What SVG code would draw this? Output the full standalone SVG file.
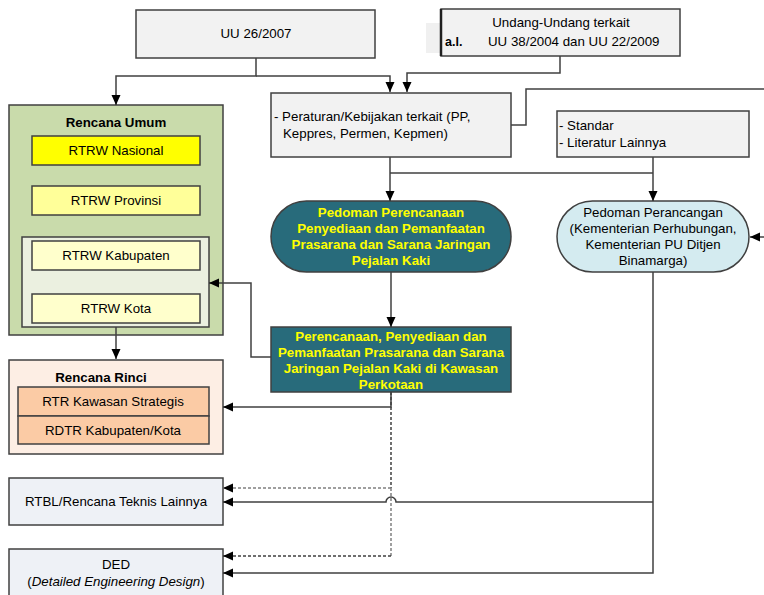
<svg xmlns="http://www.w3.org/2000/svg" width="764" height="595" viewBox="0 0 764 595">
<defs>
<marker id="arr" markerUnits="userSpaceOnUse" markerWidth="10" markerHeight="10" refX="10" refY="5" orient="auto" viewBox="0 0 10 10">
<path d="M0,0.5 L10,5 L0,9.5 z" fill="#000"/>
</marker>
</defs>
<style>
text{font-family:"Liberation Sans",Arial,sans-serif;font-size:13.3px;fill:#000}
.b{font-weight:bold}
.y{fill:#ffff00;font-weight:bold}
.m{text-anchor:middle}
.box{stroke:#404040;stroke-width:1.5}
.c{fill:none;stroke:#404040;stroke-width:1.5}
.d1{fill:none;stroke:#404040;stroke-width:1.5;stroke-dasharray:3,2}
.d2{fill:none;stroke:#808080;stroke-width:1.5;stroke-dasharray:3,2}
</style>
<rect width="764" height="595" fill="#fff"/>

<g id="uu26">
<rect class="box" x="136" y="10" width="239" height="48" fill="#f2f2f2"/>
<text class="m" x="256" y="38">UU 26/2007</text>
</g>

<g id="uu-terkait">
<rect x="426" y="23" width="16" height="30" fill="#f0f0f0"/>
<rect class="box" x="441" y="9" width="239" height="47" fill="#f2f2f2"/>
<line x1="441" y1="9" x2="441" y2="56" stroke="#202020" stroke-width="2.5"/>
<text class="m" x="561" y="27">Undang-Undang terkait</text>
<text class="b" x="445" y="46" style="font-size:12.5px">a.l.</text>
<text x="488" y="46">UU 38/2004 dan UU 22/2009</text>
</g>

<g id="peraturan">
<rect class="box" x="271" y="93" width="240" height="64" fill="#f2f2f2"/>
<text x="274" y="121">- Peraturan/Kebijakan terkait (PP,</text>
<text x="283" y="138">Keppres, Permen, Kepmen)</text>
</g>

<g id="standar">
<rect class="box" x="557" y="111" width="192" height="46" fill="#f2f2f2"/>
<text x="559" y="130">- Standar</text>
<text x="559" y="147">- Literatur Lainnya</text>
</g>

<g id="pedoman-perencanaan">
<rect class="box" x="271" y="201" width="240" height="71" rx="35.5" fill="#286b7b"/>
<text class="y m" x="391" y="217">Pedoman Perencanaan</text>
<text class="y m" x="391" y="233">Penyediaan dan Pemanfaatan</text>
<text class="y m" x="391" y="249">Prasarana dan Sarana Jaringan</text>
<text class="y m" x="391" y="265">Pejalan Kaki</text>
</g>

<g id="pedoman-perancangan">
<rect class="box" x="557" y="201" width="192" height="71" rx="35.5" fill="#d4ebf0"/>
<text class="m" x="653" y="217">Pedoman Perancangan</text>
<text class="m" x="653" y="233">(Kementerian Perhubungan,</text>
<text class="m" x="653" y="249">Kementerian PU Ditjen</text>
<text class="m" x="653" y="265">Binamarga)</text>
</g>

<g id="perencanaan">
<rect class="box" x="271" y="327" width="240" height="65" fill="#286b7b"/>
<text class="y m" x="391" y="341">Perencanaan, Penyediaan dan</text>
<text class="y m" x="391" y="357">Pemanfaatan Prasarana dan Sarana</text>
<text class="y m" x="391" y="373">Jaringan Pejalan Kaki di Kawasan</text>
<text class="y m" x="391" y="389">Perkotaan</text>
</g>

<g id="rencana-umum">
<rect class="box" x="9" y="105" width="214" height="230" fill="#c9dbab"/>
<text class="b m" x="116" y="127">Rencana Umum</text>
<rect class="box" x="32" y="136" width="168" height="29" fill="#ffff00"/>
<text class="m" x="116" y="155">RTRW Nasional</text>
<rect class="box" x="32" y="186" width="168" height="29" fill="#ffff99"/>
<text class="m" x="116" y="205">RTRW Provinsi</text>
<rect class="box" x="22" y="237" width="187" height="90" fill="#ebf0e0"/>
<rect class="box" x="32" y="241" width="168" height="29" fill="#ffffcc"/>
<text class="m" x="116" y="260">RTRW Kabupaten</text>
<rect class="box" x="32" y="294" width="168" height="29" fill="#ffffcc"/>
<text class="m" x="116" y="313">RTRW Kota</text>
</g>

<g id="rencana-rinci">
<rect class="box" x="9" y="360" width="214" height="94" fill="#fdeee4"/>
<text class="b m" x="101" y="382">Rencana Rinci</text>
<rect class="box" x="18" y="387" width="191" height="29" fill="#fbcba5"/>
<text class="m" x="113" y="406">RTR Kawasan Strategis</text>
<rect class="box" x="18" y="416" width="191" height="28" fill="#fbcba5"/>
<text class="m" x="113" y="435">RDTR Kabupaten/Kota</text>
</g>

<g id="rtbl">
<rect class="box" x="9" y="478" width="214" height="47" fill="#eef1f6"/>
<text class="m" x="116" y="506">RTBL/Rencana Teknis Lainnya</text>
</g>

<g id="ded">
<rect class="box" x="9" y="549" width="214" height="50" fill="#eef1f6"/>
<text class="m" x="116" y="569">DED</text>
<text class="m" x="116" y="586">(<tspan font-style="italic">Detailed Engineering Design</tspan>)</text>
</g>

<g id="connectors">
<path class="c" d="M256,58 V76 H116 V105" marker-end="url(#arr)"/>
<path class="c" d="M256,76 H390 V92" marker-end="url(#arr)"/>
<path class="c" d="M560,56 V73 H407 V92" marker-end="url(#arr)"/>
<path class="c" d="M511,125 H526 V89 H764"/>
<path class="c" d="M764,237 H750" marker-end="url(#arr)"/>
<path class="c" d="M390,173 H653"/>
<path class="c" d="M390,157 V201" marker-end="url(#arr)"/>
<path class="c" d="M653,157 V201" marker-end="url(#arr)"/>
<path class="c" d="M391,272 V327" marker-end="url(#arr)"/>
<path class="c" d="M271,357 H251 V283 H209" marker-end="url(#arr)"/>
<path class="c" d="M116,327 V359" marker-end="url(#arr)"/>
<path class="c" d="M391,392 V407 H223" marker-end="url(#arr)"/>
<path class="d1" d="M391,392 V488"/>
<path class="d2" d="M391,488 H223" marker-end="url(#arr)"/>
<path class="d2" d="M391,488 V556"/>
<path class="d1" d="M391,556 H223" marker-end="url(#arr)"/>
<path class="c" d="M653,272 V573 H223" marker-end="url(#arr)"/>
<path class="c" d="M653,502 H396 A5,5 0 0 0 386,502 H223" marker-end="url(#arr)"/>
</g>
</svg>
